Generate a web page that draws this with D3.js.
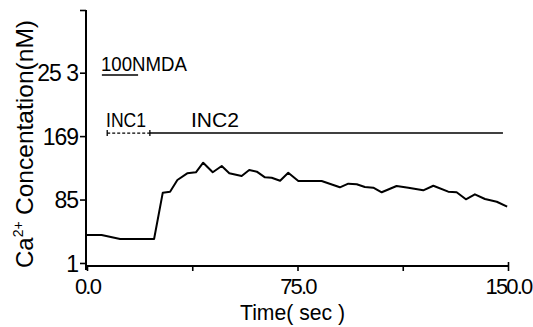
<!DOCTYPE html>
<html><head><meta charset="utf-8">
<script src="https://cdn.jsdelivr.net/npm/d3@7/dist/d3.min.js"></script>
<style>
html,body{margin:0;padding:0;background:#fff;}
svg text{font-family:"Liberation Sans",Arial,sans-serif;fill:#000;}
</style></head>
<body>
<svg id="c" width="533" height="327"></svg>
<script>
// ---- data ----
const time = [0, 5.2, 11.8, 23.9, 27.0, 29.6, 32.2, 35.7, 38.8, 41.4, 44.8, 48.0, 50.7, 55.1, 57.8, 60.5, 63.4, 65.8, 68.8, 71.7, 75.3, 83.6, 90.1, 93.1, 96.1, 99.0, 102.0, 105.0, 110.3, 114.5, 119.8, 123.4, 128.7, 131.7, 135.0, 138.2, 141.8, 146.0, 149.7];
const conc = [38, 38, 32.8, 32.8, 94.1, 95.4, 110.9, 119.7, 121.1, 133.8, 121.1, 129.4, 119.7, 116.2, 124.1, 121.9, 114.4, 113.9, 109.9, 120.5, 109.5, 109.5, 101.2, 106, 105.2, 101.6, 100.7, 94.6, 102.9, 100.7, 97.2, 103.3, 95.4, 94.6, 85.3, 91.9, 85.7, 82.1, 75.5];
const yTickValues = [1, 85, 169, 253, 336];
const yTickLabels = ["1", "85", "169", "25 3", ""];
const xTickValues = [0, 37.5, 75, 112.5, 150];
const xTickLabels = ["0.0", "", "75.0", "", "150.0"];
// annotation periods (sec) and levels (nM)
const nmdaBar = [5.3, 18.2];
const nmdaLevel = 250;
const inc1 = [7.2, 22.4];
const inc2 = [22.4, 148.2];
const incLevel = 173;

const svg = d3.select("#c");
const x = d3.scaleLinear().domain([0, 150]).range([87, 508]);
const y = d3.scaleLinear().domain([-3, 336]).range([266, 10]);

// axes
const yAxis = d3.axisLeft(y).tickValues(yTickValues).tickSize(6)
  .tickFormat((d, i) => yTickLabels[i]);
const gy = svg.append("g").attr("transform", "translate(86,0)").call(yAxis);
gy.select(".domain").attr("d", `M0,${y(336)}V${y(-3)+4}`).attr("stroke-width", 2);
gy.selectAll(".tick line").attr("stroke-width", 1.6);
gy.selectAll(".tick text").attr("x", -8).attr("dy", "0.36em")
  .style("font-size", "23px").style("letter-spacing", "-1px");

const xAxis = d3.axisBottom(x).tickValues(xTickValues).tickSize(5)
  .tickFormat((d, i) => xTickLabels[i]);
const gx = svg.append("g").attr("transform", "translate(0,266)").call(xAxis);
gx.select(".domain").attr("d", `M${x(0)},0H${x(150)}`).attr("stroke-width", 2);
gx.selectAll(".tick line").attr("stroke-width", 1.6);
gx.selectAll(".tick text").attr("y", 28).attr("dy", 0)
  .style("font-size", "22px").style("letter-spacing", "-1.8px");
gx.selectAll(".tick").filter(d => d === 150).select("line").attr("y1", -4);

// axis titles
svg.append("text").attr("x", 240).attr("y", 320)
  .style("font-size", "22px").attr("textLength", 105).attr("lengthAdjust", "spacingAndGlyphs")
  .text("Time( sec )");
const ca = svg.append("text").attr("transform", "translate(33,268) rotate(-90)")
  .style("font-size", "24px");
ca.append("tspan").text("Ca");
ca.append("tspan").attr("dy", -10).style("font-size", "14px").text("2+");
svg.append("text").attr("transform", "translate(33,215) rotate(-90)")
  .style("font-size", "24px").attr("textLength", 195).attr("lengthAdjust", "spacingAndGlyphs")
  .text("Concentation(nM)");

// data line
const line = d3.line().x((d, i) => x(time[i])).y(d => y(d));
svg.append("path").datum(conc).attr("d", line)
  .attr("fill", "none").attr("stroke", "#000").attr("stroke-width", 2).attr("stroke-linejoin", "round");

// annotations
svg.append("text").attr("x", 101).attr("y", 71).style("font-size", "20px")
  .attr("textLength", 86).attr("lengthAdjust", "spacingAndGlyphs").text("100NMDA");
svg.append("line").attr("x1", x(nmdaBar[0])).attr("x2", x(nmdaBar[1]))
  .attr("y1", y(nmdaLevel)).attr("y2", y(nmdaLevel)).attr("stroke", "#000").attr("stroke-width", 1.6);

svg.append("text").attr("x", 106).attr("y", 127).style("font-size", "20px")
  .attr("textLength", 40).attr("lengthAdjust", "spacingAndGlyphs").text("INC1");
svg.append("text").attr("x", 191).attr("y", 127).style("font-size", "20px")
  .attr("textLength", 48).attr("lengthAdjust", "spacingAndGlyphs").text("INC2");
svg.append("line").attr("x1", x(inc1[0])).attr("x2", x(inc1[1]))
  .attr("y1", y(incLevel)).attr("y2", y(incLevel)).attr("stroke", "#000")
  .attr("stroke-width", 1.3).attr("stroke-dasharray", "3,2");
svg.append("line").attr("x1", x(inc2[0])).attr("x2", x(inc2[1]))
  .attr("y1", y(incLevel)).attr("y2", y(incLevel)).attr("stroke", "#000").attr("stroke-width", 1.5);
[inc1[0], inc1[1]].forEach(t => {
  svg.append("line").attr("x1", x(t)).attr("x2", x(t))
    .attr("y1", y(incLevel) - 3).attr("y2", y(incLevel) + 3).attr("stroke", "#000").attr("stroke-width", 1.3);
});
</script>
</body></html>
